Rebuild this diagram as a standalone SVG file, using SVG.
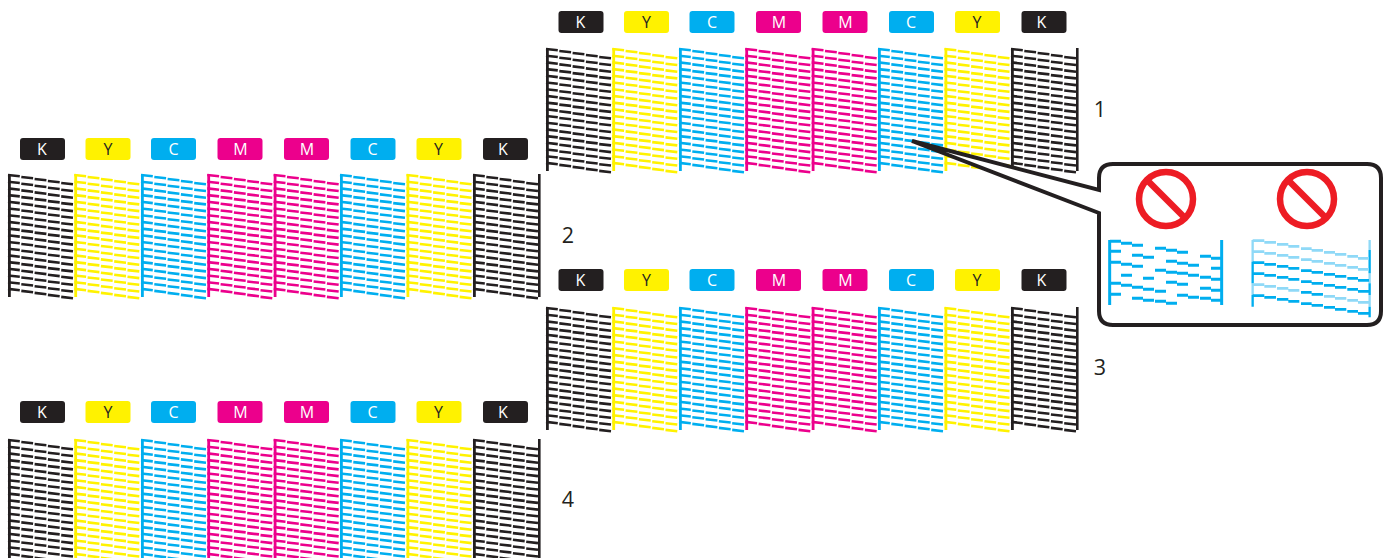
<svg xmlns="http://www.w3.org/2000/svg" xmlns:xlink="http://www.w3.org/1999/xlink" width="1388" height="558" viewBox="0 0 1388 558">
<style>
text{font-family:"Open Sans","Liberation Sans",sans-serif}
.lt{font-size:16px;text-anchor:middle;fill:#fff}
.ly{fill:#231f20}
.num{font-size:21.500px;text-anchor:middle;fill:#231f20}
.f-k{fill:#231f20}.f-y{fill:#fff200}.f-c{fill:#00aeef}.f-m{fill:#ec008c}
.k{stroke:#231f20}.y{stroke:#fff200}.c{stroke:#00aeef}.m{stroke:#ec008c}
.sign{fill:none;stroke:#ed1c24;stroke-width:6.5}
</style>
<defs>
<path id="row" fill="none" stroke-width="2.6" d="M0 0l11.800 1.300m1.500.7l11.800 1.300m1.500.7l11.800 1.300m1.500.7l11.800 1.300m1.500.7l11.800 1.300"/>
<g id="col">
<path fill="none" stroke-width="2.8" d="M1.400 0V123"/>
<use xlink:href="#row" y="1"/><use xlink:href="#row" y="7.700"/><use xlink:href="#row" y="14.400"/><use xlink:href="#row" y="21.100"/><use xlink:href="#row" y="27.800"/><use xlink:href="#row" y="34.500"/><use xlink:href="#row" y="41.200"/><use xlink:href="#row" y="47.900"/><use xlink:href="#row" y="54.600"/><use xlink:href="#row" y="61.300"/><use xlink:href="#row" y="68"/><use xlink:href="#row" y="74.700"/><use xlink:href="#row" y="81.400"/><use xlink:href="#row" y="88.100"/><use xlink:href="#row" y="94.800"/><use xlink:href="#row" y="101.500"/><use xlink:href="#row" y="108.200"/><use xlink:href="#row" y="114.900"/>
</g>
<g id="head">
<use xlink:href="#col" x="0" class="k"/><use xlink:href="#col" x="66.300" class="y"/><use xlink:href="#col" x="133" class="c"/><use xlink:href="#col" x="199.300" class="m"/><use xlink:href="#col" x="265.700" class="m"/><use xlink:href="#col" x="332" class="c"/><use xlink:href="#col" x="398.500" class="y"/><use xlink:href="#col" x="465" class="k"/>
<path class="k" fill="none" stroke-width="2.600" d="M531.300 0V123"/>
</g>
<g id="labels">
<rect class="f-k" x="0" y="0" width="45" height="22" rx="3"/><text class="lt" x="22" y="16.800">K</text>
<rect class="f-y" x="65.500" y="0" width="45" height="22" rx="3"/><text class="lt ly" x="88" y="16.800">Y</text>
<rect class="f-c" x="131" y="0" width="45" height="22" rx="3"/><text class="lt" x="153.500" y="16.800">C</text>
<rect class="f-m" x="197.500" y="0" width="45" height="22" rx="3"/><text class="lt" x="220.500" y="16.800">M</text>
<rect class="f-m" x="264" y="0" width="45" height="22" rx="3"/><text class="lt" x="287" y="16.800">M</text>
<rect class="f-c" x="330.500" y="0" width="45" height="22" rx="3"/><text class="lt" x="352.500" y="16.800">C</text>
<rect class="f-y" x="396.500" y="0" width="45" height="22" rx="3"/><text class="lt ly" x="418.500" y="16.800">Y</text>
<rect class="f-k" x="463" y="0" width="45" height="22" rx="3"/><text class="lt" x="483" y="16.800">K</text>
</g>
</defs>
<rect width="1388" height="558" fill="#fff"/>
<g id="pattern-1"><use xlink:href="#labels" x="558.500" y="11"/><use xlink:href="#head" x="546" y="48"/><text class="num" x="1100" y="117">1</text></g>
<g id="pattern-2"><use xlink:href="#labels" x="20" y="138"/><use xlink:href="#head" x="8" y="174"/><text class="num" x="568" y="243">2</text></g>
<g id="pattern-3"><use xlink:href="#labels" x="558.500" y="269"/><use xlink:href="#head" x="546" y="307"/><text class="num" x="1100" y="375">3</text></g>
<g id="pattern-4"><use xlink:href="#labels" x="20" y="401"/><use xlink:href="#head" x="8" y="439"/><text class="num" x="568" y="507">4</text></g>
<g id="callout">
<path fill="#fff" stroke="#231f20" stroke-width="4" stroke-linejoin="miter" d="M912 141L1099 190V178Q1099 164 1113 164H1367Q1381 164 1381 178V311Q1381 325 1367 325H1113Q1099 325 1099 311V213Z"/>
<g id="no-1"><circle class="sign" cx="1166" cy="199" r="27"/><path class="sign" d="M1147 180L1185 218"/></g>
<g id="no-2"><circle class="sign" cx="1307" cy="199" r="27"/><path class="sign" d="M1288 180L1326 218"/></g>
<g id="sample-1" transform="translate(1090 155) scale(.3333)">
<path fill="none" stroke="#00aeef" stroke-width="9" d="M59 255V450M395 255V450"/>
<path fill="none" stroke="#00aeef" stroke-width="9" d="M60 259h33M93 265h33M126 271h33M195 280h33M228 286h33M261 292h33M330 304h33M363 310h30M60 289h33M126 301h33M159 307h33M228 319h33M261 325h33M294 331h33M363 340h30M60 322h33M93 328h33M126 334h33M195 346h33M228 352h33M261 355h33M294 361h33M330 367h33M363 373h30M93 361h33M159 370h33M228 382h33M261 388h33M330 400h33M363 406h30M60 385h33M93 391h33M126 397h33M159 403h33M195 409h33M60 418h33M126 430h33M159 436h33M195 439h33M228 445h33M261 421h33M294 427h33M330 430h33M363 436h30"/>
</g>
<g id="sample-2" transform="translate(1090 155) scale(.3333)">
<path fill="none" stroke="#8fd9f7" stroke-width="7" d="M488 255V320M488 385V420M839 255V285M839 355V385M839 420V455"/>
<path fill="none" stroke="#00aeef" stroke-width="7" d="M488 320V385M488 420V455M839 285V355M839 385V420M839 455V487"/>
<path fill="none" stroke="#8fd9f7" stroke-width="8" d="M488 257h35M523 262h35M561 268h34M595 274h33M633 281h32M665 286h34M702 292h33M735 298h34M772 304h32M804 310h33M488 290h35M523 295h35M561 301h34M595 307h33M633 314h32M665 319h34M702 325h33M735 331h34M772 337h32M804 343h33M488 389h35M523 394h35M561 400h34M595 406h33M702 424h33M735 430h34M772 436h32M804 442h33"/>
<path fill="none" stroke="#00aeef" stroke-width="8" d="M488 323h35M523 328h35M561 334h34M595 340h33M633 347h32M665 352h34M702 358h33M735 364h34M772 370h32M804 376h33M488 356h35M523 361h35M561 367h34M595 373h33M633 380h32M665 385h34M702 391h33M735 397h34M772 403h32M804 409h33M633 412h32M665 418h34M488 422h35M523 427h35M561 433h34M595 439h33M633 446h32M665 451h34M702 457h33M735 463h34M772 469h32M804 475h33"/>
</g>
</g>
</svg>
